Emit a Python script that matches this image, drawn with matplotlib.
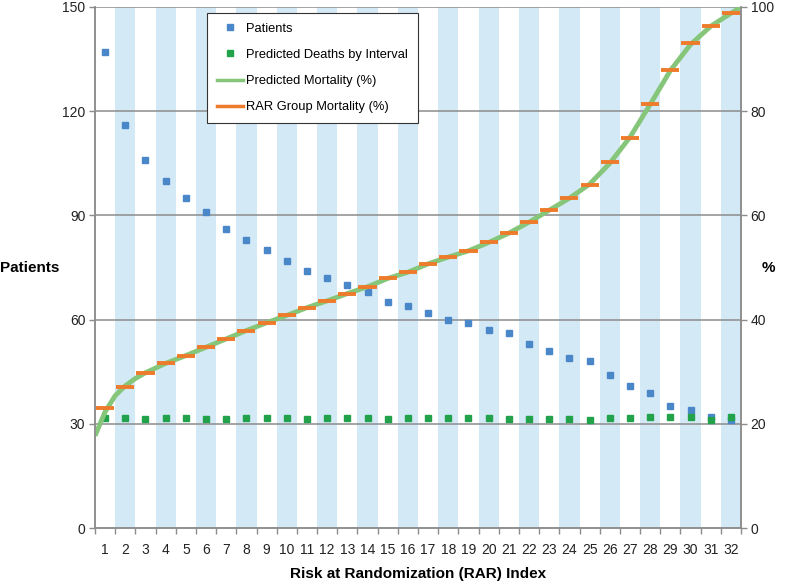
import numpy as np
import matplotlib
matplotlib.use("Agg")
import matplotlib.pyplot as plt
from matplotlib.lines import Line2D

plt.rcParams['font.family'] = ['Liberation Sans', 'DejaVu Sans']

# RAR index groups
rar_index = np.arange(1, 33)

# Patients per RAR group (left axis)
patients = [137, 116, 106, 100, 95, 91, 86, 83, 80, 77, 74, 72, 70, 68, 65, 64,
            62, 60, 59, 57, 56, 53, 51, 49, 48, 44, 41, 39, 35, 34, 32, 31]

# Predicted deaths by interval (left axis)
pred_deaths = [31.6, 31.6, 31.5, 31.7, 31.7, 31.4, 31.4, 31.7, 31.7, 31.6, 31.4,
               31.6, 31.7, 31.7, 31.3, 31.8, 31.7, 31.6, 31.8, 31.6, 31.4, 31.4,
               31.4, 31.3, 31.2, 31.8, 31.6, 32.0, 32.0, 32.0, 31.1, 32.1]

# RAR group mortality (%) (right axis)
group_mortality = [23.0, 27.1, 29.7, 31.6, 33.1, 34.7, 36.3, 37.9, 39.4, 40.8,
                   42.3, 43.6, 45.0, 46.3, 47.9, 49.1, 50.7, 52.0, 53.2, 54.8,
                   56.6, 58.7, 61.1, 63.4, 65.9, 70.2, 74.8, 81.3, 87.9, 93.0,
                   96.3, 98.8]

# Predicted mortality curve (%) read along the RAR index (right axis)
curve_x = [0.5, 1, 1.5, 2, 2.5, 3, 4, 5, 6, 7, 8, 9, 10, 11, 12, 13, 14, 15, 16,
           17, 18, 19, 20, 21, 22, 23, 24, 25, 26, 27, 28, 29, 30, 31, 32, 32.5]
curve_y = [17.7, 22.3, 25.4, 27.3, 28.7, 29.8, 31.6, 33.1, 34.7, 36.3, 37.9,
           39.4, 40.8, 42.3, 43.6, 45.0, 46.3, 47.9, 49.1, 50.7, 52.0, 53.2,
           54.8, 56.6, 58.7, 61.0, 63.3, 66.0, 70.0, 75.0, 81.3, 87.8, 92.8,
           96.3, 98.8, 100.0]

BLUE = '#4a87c9'
DGREEN = '#22a24a'
LGREEN = '#86c67a'
ORANGE = '#ee7b2c'
BAND = '#d3e9f6'
GRID = '#8c8c8c'

fig = plt.figure(figsize=(8, 5.87), dpi=100)
ax = fig.add_axes([95 / 800, 1 - 528 / 587, 646 / 800, 521 / 587])
ax2 = ax.twinx()

# alternating background bands on even groups
for i in rar_index:
    if i % 2 == 0:
        ax.axvspan(i - 0.5, i + 0.5, color=BAND, lw=0, zorder=0)

ax.set_xlim(0.5, 32.5)
ax.set_ylim(0, 150)
ax2.set_ylim(0, 100)

for y in [30, 60, 90, 120, 150]:
    ax.axhline(y, color=GRID, lw=1.1, zorder=1)

ax.plot(rar_index, patients, 's', color=BLUE, ms=5, zorder=3)
ax.plot(rar_index, pred_deaths, 's', color=DGREEN, ms=5, zorder=3)

ax2.plot(curve_x, curve_y, '-', color=LGREEN, lw=3.5, zorder=2, solid_capstyle='butt')
ax2.hlines(group_mortality, rar_index - 0.45, rar_index + 0.45, color=ORANGE,
           lw=2.8, zorder=4)

# axes styling
for a in (ax, ax2):
    a.spines['top'].set_visible(False)
    for s in ('left', 'right', 'bottom'):
        a.spines[s].set_color(GRID)
        a.spines[s].set_linewidth(1.1)
ax.set_yticks([0, 30, 60, 90, 120, 150])
ax2.set_yticks([0, 20, 40, 60, 80, 100])
ax.tick_params(axis='y', length=4, width=1, color=GRID, labelsize=10,
               labelcolor='#222222', pad=3)
ax2.tick_params(axis='y', length=4, width=1, color=GRID, labelsize=10,
                labelcolor='#222222', pad=3)

ax.set_xticks(np.arange(0.5, 33, 1))
ax.set_xticklabels([])
ax.set_xticks(rar_index, minor=True)
ax.set_xticklabels([str(i) for i in rar_index], minor=True)
ax.tick_params(axis='x', which='major', length=4, width=1, color=GRID)
ax.tick_params(axis='x', which='minor', length=0, labelsize=10,
               labelcolor='#222222', pad=11)

ax.set_xlabel('Risk at Randomization (RAR) Index', fontsize=11, fontweight='bold')
ax.xaxis.set_label_coords(0.5, -0.074)
ax.set_ylabel('Patients', fontsize=11, fontweight='bold', rotation=0,
              ha='center', va='center')
ax.yaxis.set_label_coords(-0.101, 0.5)
ax2.set_ylabel('%', fontsize=11, fontweight='bold', rotation=0,
               ha='center', va='center')
ax2.yaxis.set_label_coords(1.042, 0.5)

handles = [
    Line2D([], [], ls='none', marker='s', color=BLUE, ms=5),
    Line2D([], [], ls='none', marker='s', color=DGREEN, ms=5),
    Line2D([], [], color=LGREEN, lw=2.5),
    Line2D([], [], color=ORANGE, lw=2.5),
]
labels = ['Patients', 'Predicted Deaths by Interval', 'Predicted Mortality (%)',
          'RAR Group Mortality (%)']
leg = ax2.legend(handles, labels, loc='upper left',
                 bbox_to_anchor=(207 / 800, 1 - 13 / 587),
                 bbox_transform=fig.transFigure, fontsize=9.3, frameon=True,
                 fancybox=False, edgecolor='#333333', framealpha=1,
                 handlelength=2.0, handletextpad=0.3, labelspacing=1.1,
                 borderpad=0.75, borderaxespad=0)
leg.get_frame().set_linewidth(0.8)

fig.savefig('out.png', dpi=100)
